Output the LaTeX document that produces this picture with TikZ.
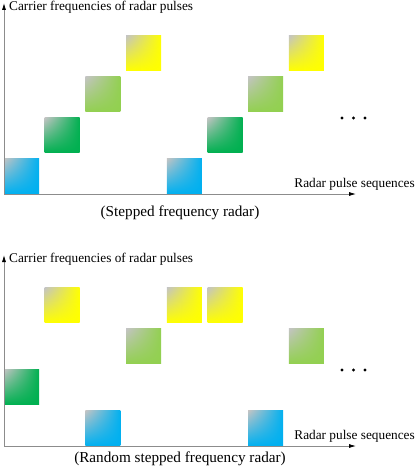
\documentclass[tikz,border=0pt]{standalone}
\usepackage{fontspec}
\setmainfont{Liberation Serif}
\usepackage{tikz}
\usetikzlibrary{arrows.meta, shadings}

\definecolor{pulseblue}{HTML}{00B0F0}
\definecolor{pulsegreen}{HTML}{00B050}
\definecolor{pulselime}{HTML}{92D050}
\definecolor{pulseyellow}{HTML}{FFFF00}
\definecolor{fadegray}{HTML}{C4C4C4}
\definecolor{axisgray}{HTML}{8C8C8C}

\tikzset{
  pulse/.style={inner sep=0pt, minimum size=35pt, shade,
    upper left=fadegray, upper right=#1, lower left=#1, lower right=#1},
  axis/.style={draw=axisgray, line width=0.8pt,
    -{Latex[length=7pt, width=4pt, color=black]}},
  axislabel/.style={inner sep=0pt, font=\fontsize{13.3}{15}\selectfont},
  caption/.style={inner sep=0pt, font=\fontsize{15.2}{18}\selectfont}
}

\begin{document}
\begin{tikzpicture}[x=1pt, y=-1pt]
\useasboundingbox (0,0) rectangle (415,476);

% stepped frequency radar
\node[pulse=pulseblue]   (s1) at (21.5,176) {};
\node[pulse=pulsegreen]  (s2) at (62.2,135) {};
\node[pulse=pulselime]   (s3) at (102.9,94) {};
\node[pulse=pulseyellow] (s4) at (143.6,53) {};
\node[pulse=pulseblue]   (s5) at (184.3,176) {};
\node[pulse=pulsegreen]  (s6) at (225.0,135) {};
\node[pulse=pulselime]   (s7) at (265.7,94) {};
\node[pulse=pulseyellow] (s8) at (306.4,53) {};

\coordinate (o1) at (4,194);
\coordinate (ytop1) at (4,3);
\coordinate (xend1) at (356,194);
\draw[axis] (o1)--(ytop1);
\draw[axis] (o1)--(xend1);
\node[axislabel, anchor = base west] (yl1) at (9,10.5) {Carrier frequencies of radar pulses};
\node[axislabel, anchor = base east] (xl1) at (415,187) {Radar pulse sequences};
\fill[black] (342,118) circle (1.6pt);
\fill[black] (353.5,118) circle (1.6pt);
\fill[black] (365,118) circle (1.6pt);
\node[caption, anchor = base] (c1) at (180,216) {(Stepped frequency radar)};

% random stepped frequency radar
\node[pulse=pulsegreen]  (r1) at (21.5,387) {};
\node[pulse=pulseyellow] (r2) at (62.2,305) {};
\node[pulse=pulseblue]   (r3) at (102.9,428) {};
\node[pulse=pulselime]   (r4) at (143.6,346) {};
\node[pulse=pulseyellow] (r5) at (184.3,305) {};
\node[pulse=pulseyellow] (r6) at (225.0,305) {};
\node[pulse=pulseblue]   (r7) at (265.7,428) {};
\node[pulse=pulselime]   (r8) at (306.4,346) {};

\coordinate (o2) at (4,446);
\coordinate (ytop2) at (4,255);
\coordinate (xend2) at (356,446);
\draw[axis] (o2)--(ytop2);
\draw[axis] (o2)--(xend2);
\node[axislabel, anchor = base west] (yl2) at (9,262.5) {Carrier frequencies of radar pulses};
\node[axislabel, anchor = base east] (xl2) at (415,439) {Radar pulse sequences};
\fill[black] (342,370) circle (1.6pt);
\fill[black] (353.5,370) circle (1.6pt);
\fill[black] (365,370) circle (1.6pt);
\node[caption, anchor = base] (c2) at (180,462) {(Random stepped frequency radar)};
\end{tikzpicture}
\end{document}
